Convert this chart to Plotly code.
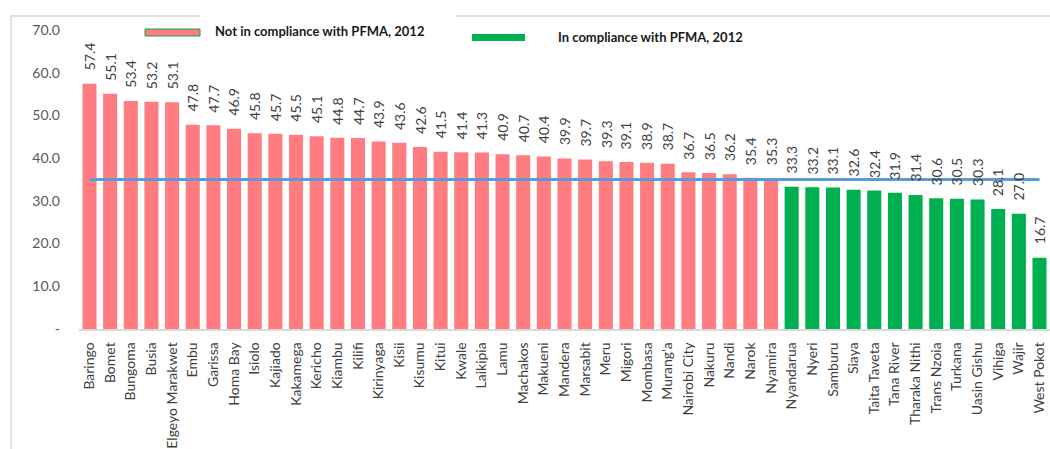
import plotly.graph_objects as go

counties = [
    "Baringo", "Bomet", "Bungoma", "Busia", "Elgeyo Marakwet", "Embu", "Garissa",
    "Homa Bay", "Isiolo", "Kajiado", "Kakamega", "Kericho", "Kiambu", "Kilifi",
    "Kirinyaga", "Kisii", "Kisumu", "Kitui", "Kwale", "Laikipia", "Lamu",
    "Machakos", "Makueni", "Mandera", "Marsabit", "Meru", "Migori", "Mombasa",
    "Murang'a", "Nairobi City", "Nakuru", "Nandi", "Narok", "Nyamira",
    "Nyandarua", "Nyeri", "Samburu", "Siaya", "Taita Taveta", "Tana River",
    "Tharaka Nithi", "Trans Nzoia", "Turkana", "Uasin Gishu", "Vihiga", "Wajir",
    "West Pokot",
]
values = [
    57.4, 55.1, 53.4, 53.2, 53.1, 47.8, 47.7, 46.9, 45.8, 45.7, 45.5, 45.1, 44.8,
    44.7, 43.9, 43.6, 42.6, 41.5, 41.4, 41.3, 40.9, 40.7, 40.4, 39.9, 39.7, 39.3,
    39.1, 38.9, 38.7, 36.7, 36.5, 36.2, 35.4, 35.3, 33.3, 33.2, 33.1, 32.6, 32.4,
    31.9, 31.4, 30.6, 30.5, 30.3, 28.1, 27.0, 16.7,
]
threshold = 35.0
y_ticks = [0, 10, 20, 30, 40, 50, 60, 70]
y_tick_labels = ["-", "10.0", "20.0", "30.0", "40.0", "50.0", "60.0", "70.0"]
legend_names = ["Not in compliance with PFMA, 2012", "In compliance with PFMA, 2012"]

RED = "#FF7C80"
GREEN = "#00B050"
BLUE = "#5B9BD5"
GREY_LINE = "#D9D9D9"
FONT = "Lato"

W, H = 1050, 449
M_L, M_R, M_T, M_B = 79, 0, 30, 120
PW, PH = W - M_L - M_R, H - M_T - M_B


def px_x(px):
    return (px - M_L) / PW


def px_y(py):
    return (H - M_B - py) / PH


over = [v >= threshold for v in values]

fig = go.Figure()
fig.add_trace(go.Bar(
    x=[c for c, o in zip(counties, over) if o],
    y=[v for v, o in zip(values, over) if o],
    marker=dict(color=RED, line=dict(width=0)),
    name=legend_names[0],
    showlegend=False,
))
fig.add_trace(go.Bar(
    x=[c for c, o in zip(counties, over) if not o],
    y=[v for v, o in zip(values, over) if not o],
    marker=dict(color=GREEN, line=dict(width=0)),
    name=legend_names[1],
    showlegend=False,
))
fig.add_trace(go.Scatter(
    x=counties,
    y=[threshold] * len(counties),
    mode="lines",
    line=dict(color=BLUE, width=3),
    showlegend=False,
    hoverinfo="skip",
))

# value labels above each bar (rotated, centred a fixed distance above the bar top)
for c, v in zip(counties, values):
    fig.add_annotation(
        x=c, y=v, text=f"{v:.1f}", textangle=-90,
        xanchor="center", yanchor="middle", yshift=27,
        showarrow=False, font=dict(family=FONT, size=14, color="#404040"),
    )

# legend swatches and texts
shapes = [
    dict(type="rect", xref="paper", yref="paper",
         x0=px_x(145), x1=px_x(200), y0=px_y(36), y1=px_y(29),
         fillcolor=RED, line=dict(color=GREEN, width=1)),
    dict(type="rect", xref="paper", yref="paper",
         x0=px_x(472), x1=px_x(525), y0=px_y(41), y1=px_y(34),
         fillcolor=GREEN, line=dict(width=0)),
    # frame
    dict(type="line", xref="paper", yref="paper",
         x0=px_x(11), x1=px_x(11), y0=px_y(16), y1=px_y(449),
         line=dict(color=GREY_LINE, width=1.5)),
    dict(type="line", xref="paper", yref="paper",
         x0=px_x(10), x1=px_x(200), y0=px_y(16), y1=px_y(16),
         line=dict(color=GREY_LINE, width=1.5)),
    dict(type="line", xref="paper", yref="paper",
         x0=px_x(455), x1=px_x(1050), y0=px_y(16), y1=px_y(16),
         line=dict(color=GREY_LINE, width=1.5)),
]
fig.add_annotation(
    xref="paper", yref="paper", x=px_x(213), y=px_y(31),
    xanchor="left", yanchor="middle", showarrow=False,
    text=f"<b>{legend_names[0]}</b>",
    font=dict(family=FONT, size=13, color="#1a1a1a"),
)
fig.add_annotation(
    xref="paper", yref="paper", x=px_x(556), y=px_y(37),
    xanchor="left", yanchor="middle", showarrow=False,
    text=f"<b>{legend_names[1]}</b>",
    font=dict(family=FONT, size=13, color="#1a1a1a"),
)

fig.update_layout(
    width=W, height=H,
    margin=dict(l=M_L, r=M_R, t=M_T, b=M_B, pad=0),
    paper_bgcolor="white", plot_bgcolor="white",
    barmode="overlay",
    bargap=0.32,
    shapes=shapes,
    font=dict(family=FONT),
    xaxis=dict(
        categoryorder="array", categoryarray=counties,
        tickangle=-90, tickfont=dict(family=FONT, size=14, color="#404040"),
        showline=True, linecolor=GREY_LINE, linewidth=1.5,
        showgrid=False, ticks="", ticklabelstandoff=6,
    ),
    yaxis=dict(
        range=[0, 70], tickvals=y_ticks, ticktext=y_tick_labels,
        tickfont=dict(family=FONT, size=14, color="#595959"),
        showgrid=False, zeroline=False, showline=False, ticks="",
        ticklabelstandoff=18,
    ),
)

fig.write_html("out.html")
